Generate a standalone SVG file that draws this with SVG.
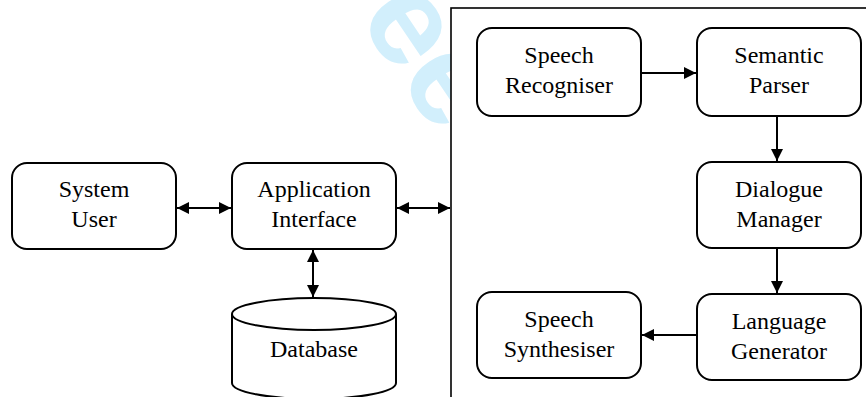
<svg xmlns="http://www.w3.org/2000/svg" width="866" height="397" viewBox="0 0 866 397">
  <style>
    .box { fill: #fff; stroke: #000; stroke-width: 2; }
    .frame { fill: #fff; stroke: #000; stroke-width: 1.6; }
    .lbl { font-family: "Liberation Serif", "Times New Roman", serif; font-size: 24px; fill: #000; text-anchor: middle; }
    .wire { stroke: #000; stroke-width: 2; fill: none; }
    .wm { font-family: "Liberation Sans", Arial, sans-serif; font-weight: bold; font-size: 130px; fill: #d2effc; }
  </style>
  <defs>
    <marker id="tip" viewBox="0 0 12 12" markerUnits="userSpaceOnUse" markerWidth="12" markerHeight="12" refX="12" refY="6" orient="auto-start-reverse">
      <path d="M0,0 L12,6 L0,12 z" fill="#000"/>
    </marker>
  </defs>

  <!-- background watermark, partly hidden behind the frame -->
  <g id="watermark">
    <text class="wm" transform="translate(357,17) rotate(56)">ee</text>
  </g>

  <!-- dialogue system frame -->
  <rect id="frame" class="frame" x="451" y="8" width="440" height="420"/>

  <g id="system-user">
    <rect class="box" x="12" y="163" width="164" height="86" rx="15"/>
    <text class="lbl" x="94" y="197">System</text>
    <text class="lbl" x="94" y="227">User</text>
  </g>

  <g id="application-interface">
    <rect class="box" x="232" y="163" width="164" height="86" rx="15"/>
    <text class="lbl" x="314" y="197">Application</text>
    <text class="lbl" x="314" y="227">Interface</text>
  </g>

  <g id="database">
    <path class="box" d="M232,314 L232,383 A82,16 0 0 0 396,383 L396,314"/>
    <ellipse class="box" cx="314" cy="314" rx="82" ry="16"/>
    <text class="lbl" x="314" y="357">Database</text>
  </g>

  <g id="speech-recogniser">
    <rect class="box" x="477" y="28" width="164" height="88" rx="15"/>
    <text class="lbl" x="559" y="63">Speech</text>
    <text class="lbl" x="559" y="93">Recogniser</text>
  </g>

  <g id="semantic-parser">
    <rect class="box" x="697" y="28" width="164" height="88" rx="15"/>
    <text class="lbl" x="779" y="63">Semantic</text>
    <text class="lbl" x="779" y="93">Parser</text>
  </g>

  <g id="dialogue-manager">
    <rect class="box" x="697" y="162" width="164" height="86" rx="15"/>
    <text class="lbl" x="779" y="197">Dialogue</text>
    <text class="lbl" x="779" y="227">Manager</text>
  </g>

  <g id="language-generator">
    <rect class="box" x="697" y="294" width="164" height="86" rx="15"/>
    <text class="lbl" x="779" y="329">Language</text>
    <text class="lbl" x="779" y="359">Generator</text>
  </g>

  <g id="speech-synthesiser">
    <rect class="box" x="477" y="292" width="164" height="86" rx="15"/>
    <text class="lbl" x="559" y="327">Speech</text>
    <text class="lbl" x="559" y="357">Synthesiser</text>
  </g>

  <g id="connectors">
    <line class="wire" x1="177" y1="208" x2="231" y2="208" marker-start="url(#tip)" marker-end="url(#tip)"/>
    <line class="wire" x1="397" y1="208" x2="450" y2="208" marker-start="url(#tip)" marker-end="url(#tip)"/>
    <line class="wire" x1="313" y1="250" x2="313" y2="297" marker-start="url(#tip)" marker-end="url(#tip)"/>
    <line class="wire" x1="641" y1="73" x2="696" y2="73" marker-end="url(#tip)"/>
    <line class="wire" x1="777" y1="116" x2="777" y2="161" marker-end="url(#tip)"/>
    <line class="wire" x1="777" y1="248" x2="777" y2="293" marker-end="url(#tip)"/>
    <line class="wire" x1="697" y1="335" x2="642" y2="335" marker-end="url(#tip)"/>
  </g>
</svg>
